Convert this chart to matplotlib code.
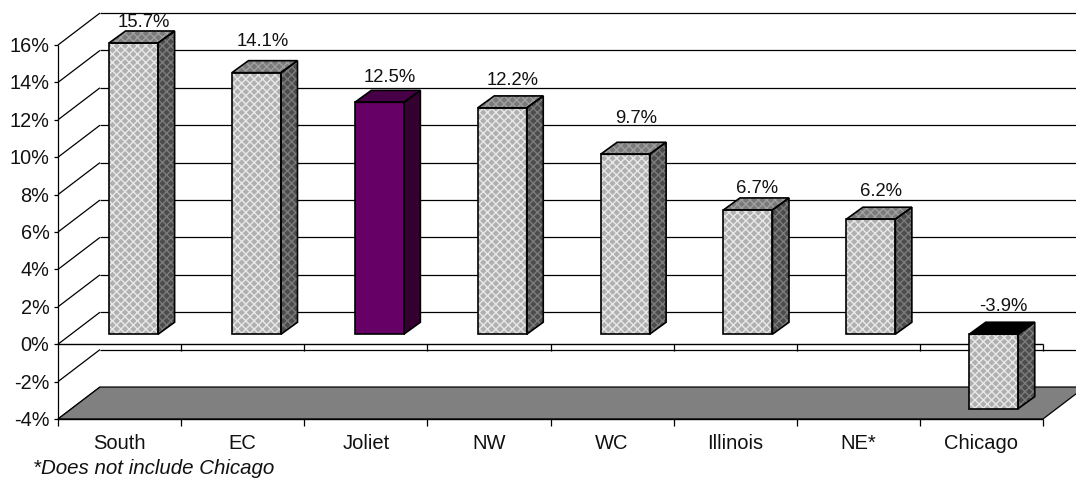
#! /usr/bin/env python

import matplotlib
matplotlib.use("Agg")
import matplotlib.pyplot as plt
from matplotlib.patches import Polygon

plt.rcParams['font.family'] = ['Liberation Sans', 'DejaVu Sans']
plt.rcParams['hatch.linewidth'] = 1.0

regions = ["South", "EC", "Joliet", "NW", "WC", "Illinois", "NE*", "Chicago"]
growth = [15.7, 14.1, 12.5, 12.2, 9.7, 6.7, 6.2, -3.9]
y_ticks = [-4, -2, 0, 2, 4, 6, 8, 10, 12, 14, 16]
footnote = "*Does not include Chicago"

# extra gap of each value label above its bar, in axis units
label_gap = [0.44, 1.04, 0.69, 0.84, 1.27, 0.5, 0.85, 0.84]
label_nudge = [0.016, -0.016, 0.016, 0.016, 0.024, 0.008, 0.016, 0.008]

# fake 3D offsets, in axis units
wall_dx, wall_dy = 0.341, 1.71
bar_shift, bar_lift = 0.114, 0.535
bar_width = 0.398
bar_pitch = 0.998
bar_dx, bar_dy = 0.134, 0.64
up_scale, down_scale = 0.992, 1.02

fig = plt.figure(figsize=(10.76, 4.79), dpi=100)
ax = fig.add_axes([58/1076, (479-419)/479, 985/1076, 374/479])
ax.set_xlim(0, len(regions))
ax.set_ylim(-4, 16)
ax.axis('off')


def line(xs, ys, z=1, color='black', lw=0.9):
    ax.plot(xs, ys, color=color, lw=lw, zorder=z, clip_on=False,
            solid_capstyle='butt')


def face(points, fill, hatch_color, z):
    ax.add_patch(Polygon(points, closed=True, facecolor=fill,
                         edgecolor=hatch_color, hatch='xxxx', lw=0,
                         zorder=z, clip_on=False))
    ax.add_patch(Polygon(points, closed=True, fill=False, edgecolor='black',
                         lw=1.2, zorder=z+0.1, clip_on=False,
                         joinstyle='miter'))


n = len(regions)

# back wall and the diagonals running to the left axis
for t in y_ticks:
    if t > -4:
        line([wall_dx, n+wall_dx], [t+wall_dy, t+wall_dy])
    line([0, wall_dx], [t, t+wall_dy])

# floor
floor = [(0, -4), (wall_dx, -4+wall_dy), (n+wall_dx, -4+wall_dy), (n, -4)]
ax.add_patch(Polygon(floor, closed=True, facecolor='#808080',
                     edgecolor='black', lw=0.9, zorder=2, clip_on=False))

# axes
line([0, 0], [-4, 16], z=3)
line([0, n], [0, 0], z=3, lw=1.0)
line([0, n], [-4, -4], z=3, lw=1.0)
for t in y_ticks:
    line([-0.035, 0], [t, t], z=3)
for i in range(n+1):
    line([i, i], [-4, -4.35], z=3)
    if i > 0:
        line([i, i], [0, -0.35], z=3)

for t in y_ticks:
    ax.text(-0.07, t - 0.08, f"{t}%", ha='right', va='center', fontsize=14.3,
            color='#111111')

for i, (name, val) in enumerate(zip(regions, growth)):
    left = i*bar_pitch + 0.5 + bar_shift - bar_width/2
    right = left + bar_width
    base = bar_lift
    end = bar_lift + val*(up_scale if val > 0 else down_scale)

    if name == "Joliet":
        front, side, top = '#660066', '#33002f', '#470047'
        hatch_f = hatch_s = hatch_t = None
    else:
        front, side, top = '#b0b0b0', '#4c4c4c', '#7a7a7a'
        hatch_f, hatch_s, hatch_t = '#e8e8e8', '#7c7c7c', '#a0a0a0'
    if val < 0:
        top = hatch_t = 'black'

    low, high = min(base, end), max(base, end)
    z = 4 + i*0.5
    face([(left, low), (right, low), (right, high), (left, high)],
         front, hatch_f or front, z)
    face([(right, low), (right+bar_dx, low+bar_dy), (right+bar_dx, high+bar_dy),
          (right, high)], side, hatch_s or side, z)
    face([(left, high), (right, high), (right+bar_dx, high+bar_dy),
          (left+bar_dx, high+bar_dy)], top, hatch_t or top, z)

    ax.text(left + (bar_width+bar_dx)/2 + label_nudge[i],
            high + bar_dy + label_gap[i], f"{val}%", ha='center', va='center',
            fontsize=13.3, color='#111111', zorder=20)
    ax.text(i + 0.5, -5.3, name, ha='center', va='center', fontsize=14.5,
            color='#111111')

fig.text(33/1076, 1 - 468.5/479, footnote, ha='left', va='center', fontsize=14.8,
         style='italic', color='#111111')

fig.savefig("out.png", dpi=100)
